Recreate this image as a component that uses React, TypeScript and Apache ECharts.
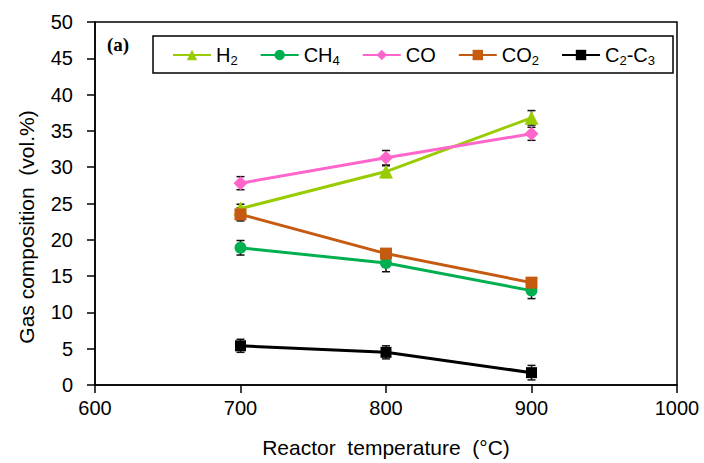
import React, { useEffect, useRef } from "react";
import * as echarts from "echarts";

const temperatures = [700, 800, 900];
const seriesNames = ["H2", "CH4", "CO", "CO2", "C2-C3"];
const h2 = [24.3, 29.4, 36.8];
const ch4 = [18.9, 16.8, 13.0];
const co = [27.8, 31.3, 34.6];
const co2 = [23.5, 18.1, 14.1];
const c2c3 = [5.4, 4.5, 1.7];
const h2Err = [0.6, 0.8, 1.0];
const ch4Err = [1.0, 1.2, 1.1];
const coErr = [0.9, 1.0, 0.9];
const co2Err = [0.9, 0.4, 0.4];
const c2c3Err = [0.9, 0.9, 1.0];
const xTicks = [600, 700, 800, 900, 1000];
const yTicks = [0, 5, 10, 15, 20, 25, 30, 35, 40, 45, 50];

const colors = ["#99CC00", "#00B050", "#FF66CC", "#C55A11", "#000000"];
const symbols = ["triangle", "circle", "diamond", "rect", "rect"];
const symbolSizes = [14, 12, 14, 12, 11];
const values = [h2, ch4, co, co2, c2c3];
const errs = [h2Err, ch4Err, coErr, co2Err, c2c3Err];

const FONT = "'Liberation Sans', Arial, sans-serif";

export default function App() {
  const ref = useRef<HTMLDivElement>(null);
  useEffect(() => {
    document.body.style.margin = "0";
    if (!ref.current) return;
    const chart = echarts.init(ref.current, null, { renderer: "svg" });

    const lineSeries = seriesNames.map((name, i) => ({
      name,
      type: "line",
      data: temperatures.map((t, j) => [t, values[i][j]]),
      symbol: symbols[i],
      symbolSize: symbolSizes[i],
      itemStyle: { color: colors[i] },
      lineStyle: { color: colors[i], width: 3 },
      z: 3,
    }));

    const errData: number[][] = [];
    values.forEach((vals, i) =>
      vals.forEach((v, j) => errData.push([temperatures[j], v, errs[i][j]]))
    );

    const errSeries = {
      type: "custom",
      name: "err",
      data: errData,
      encode: { x: 0, y: 1 },
      z: 2,
      silent: true,
      renderItem: (params: any, api: any) => {
        const x = api.value(0);
        const y = api.value(1);
        const e = api.value(2);
        const top = api.coord([x, y + e]);
        const bot = api.coord([x, y - e]);
        const hw = 4;
        const style = { stroke: "#111", lineWidth: 1.5 };
        return {
          type: "group",
          children: [
            { type: "line", shape: { x1: top[0], y1: top[1], x2: bot[0], y2: bot[1] }, style },
            { type: "line", shape: { x1: top[0] - hw, y1: top[1], x2: top[0] + hw, y2: top[1] }, style },
            { type: "line", shape: { x1: bot[0] - hw, y1: bot[1], x2: bot[0] + hw, y2: bot[1] }, style },
          ],
        };
      },
    };

    const subName = (n: string) => {
      if (n === "H2") return "H{sub|2}";
      if (n === "CH4") return "CH{sub|4}";
      if (n === "CO") return "CO";
      if (n === "CO2") return "CO{sub|2}";
      return "C{sub|2}-C{sub|3}";
    };

    const option: any = {
      animation: false,
      backgroundColor: "#fff",
      grid: {
        left: 95,
        right: 27,
        top: 22,
        bottom: 77,
        show: true,
        borderColor: "#000",
        borderWidth: 1.5,
        backgroundColor: "transparent",
      },
      xAxis: {
        type: "value",
        min: xTicks[0],
        max: xTicks[xTicks.length - 1],
        interval: 100,
        axisLine: { show: true, lineStyle: { color: "#000", width: 1.5 } },
        axisTick: { show: true, inside: false, length: 8, lineStyle: { color: "#000", width: 1.5 } },
        axisLabel: { color: "#000", fontSize: 20, fontFamily: FONT, margin: 13, formatter: (v: number) => String(v) },
        splitLine: { show: false },
        name: "Reactor  temperature  (°C)",
        nameLocation: "middle",
        nameGap: 52,
        nameTextStyle: { color: "#000", fontSize: 21, fontFamily: FONT },
      },
      yAxis: {
        type: "value",
        min: yTicks[0],
        max: yTicks[yTicks.length - 1],
        interval: 5,
        axisLine: { show: true, lineStyle: { color: "#000", width: 1.5 } },
        axisTick: { show: true, inside: false, length: 8, lineStyle: { color: "#000", width: 1.5 } },
        axisLabel: { color: "#000", fontSize: 20, fontFamily: FONT, margin: 22, formatter: (v: number) => String(v) },
        splitLine: { show: false },
      },
      legend: {
        data: seriesNames,
        left: 172,
        top: 45,
        itemWidth: 38,
        itemHeight: 13,
        itemGap: 22,
        padding: 0,
        formatter: subName,
        textStyle: {
          color: "#000",
          fontSize: 20,
          fontFamily: FONT,
          rich: {
            sub: { fontSize: 13, fontFamily: FONT, color: "#000", padding: [10, 0, 0, 0] },
          },
        },
      },
      graphic: [
        {
          type: "rect",
          shape: { x: 153, y: 36, width: 520, height: 37 },
          style: { fill: "transparent", stroke: "#000", lineWidth: 1.5 },
          z: 1,
        },
        {
          type: "text",
          x: 107,
          y: 44,
          style: {
            text: "(a)",
            font: "bold 19px 'Liberation Serif', 'Times New Roman', serif",
            fill: "#000",
            textVerticalAlign: "middle",
          },
        },
        {
          type: "text",
          x: 26,
          y: 227,
          rotation: Math.PI / 2,
          style: {
            text: "Gas composition  (vol.%)",
            font: `21px ${FONT}`,
            fill: "#000",
            textAlign: "center",
            textVerticalAlign: "middle",
          },
        },
      ],
      series: [...lineSeries, errSeries],
    };

    chart.setOption(option);
    return () => chart.dispose();
  }, []);

  return <div ref={ref} style={{ width: 704, height: 463 }} />;
}
